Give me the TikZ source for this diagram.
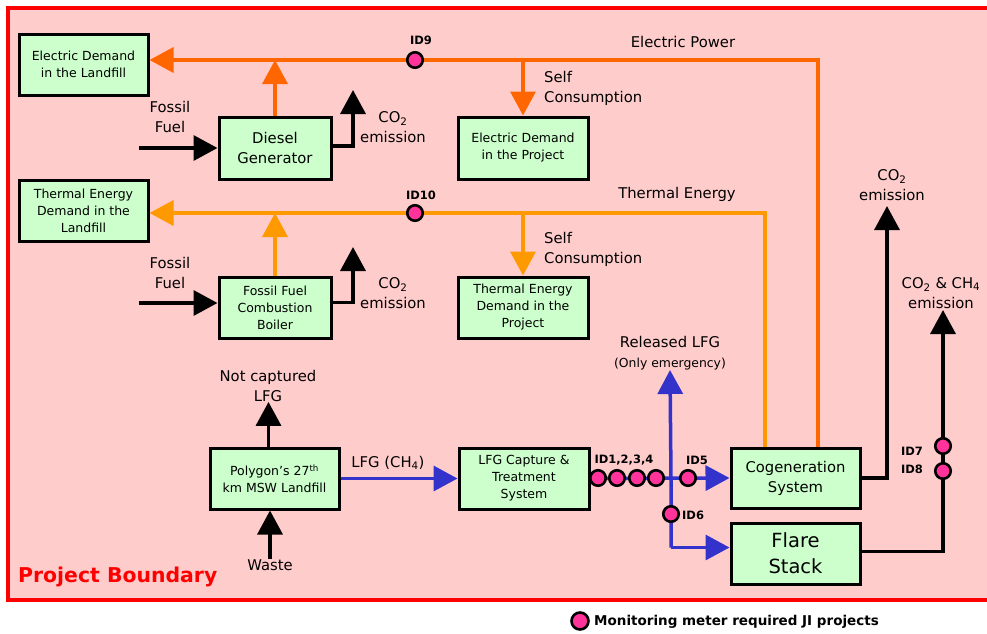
\documentclass[tikz,border=0pt]{standalone}
\usepackage{fontspec}
\setmainfont{DejaVu Sans}
\usetikzlibrary{arrows.meta}
\definecolor{bpink}{HTML}{FFCCCC}
\definecolor{bgreen}{HTML}{CCFFCC}
\definecolor{belec}{HTML}{FF6600}
\definecolor{btherm}{HTML}{FF9900}
\definecolor{bblue}{HTML}{3333CC}
\definecolor{bmeter}{HTML}{FF3399}
\definecolor{bred}{HTML}{FF0000}
\tikzstyle{boundingbox} = [line width=3.5pt, draw=bred, fill=bpink]
\tikzstyle{block} = [rectangle, draw, line width=3pt, fill=bgreen, align=center, minimum width=129pt, minimum height=61pt, inner sep=1pt, font=\fontsize{12.5}{17}\selectfont]
\tikzstyle{bigblock} = [block, font=\fontsize{14.8}{20}\selectfont]
\tikzstyle{meter} = [circle, draw, line width=2.6pt, fill=bmeter, minimum size=15.5pt, inner sep=0pt]
\tikzstyle{meterid} = [inner sep=0pt, font=\fontsize{11.5}{13}\bfseries\selectfont]
\tikzstyle{tag} = [align=center, inner sep=0pt, font=\fontsize{14.8}{20}\selectfont]
\tikzstyle{line} = [draw, line width=3.5pt]
\tikzstyle{arrow} = [line, -{Triangle[length=24pt, width=25pt]}]

\begin{document}
\begin{tikzpicture}[x=1pt, y=-1pt]
\useasboundingbox (0,0) rectangle (987,633);

%% project boundary
\draw[boundingbox] (8,8) rectangle (1000,600);
\node[anchor=west, inner sep=0pt, text=bred, font=\fontsize{20.4}{23}\bfseries\selectfont] at (18,577) (boundlabel) {Project Boundary};

%% electric power
\node[block] at (83.5,64.5) (edland) {Electric Demand\\in the Landfill};
\node[bigblock, minimum width=112pt, minimum height=62pt] at (275,148) (diesel) {Diesel\\Generator};
\node[block, minimum width=130pt, minimum height=62pt] at (523,148) (edproj) {Electric Demand\\in the Project};
\node[tag] at (170,117) (dfuellabel) {Fossil\\Fuel};
\node[tag] at (393,127) (dco2label) {CO\textsubscript{2}\\emission};
\node[tag] at (683,42) (elecpower) {Electric Power};
\node[tag, anchor=west, align=left] at (544,88) (eselflabel) {Self\\Consumption};

%% thermal energy
\node[block] at (83.5,210.5) (tdland) {Thermal Energy\\Demand in the\\Landfill};
\node[block, minimum width=112pt] at (275,307.5) (boiler) {Fossil Fuel\\Combustion\\Boiler};
\node[block, minimum width=130pt] at (523,307.5) (tdproj) {Thermal Energy\\Demand in the\\Project};
\node[tag] at (170,273) (bfuellabel) {Fossil\\Fuel};
\node[tag] at (393,293) (bco2label) {CO\textsubscript{2}\\emission};
\node[tag] at (677,194) (thermenergy) {Thermal Energy};
\node[tag, anchor=west, align=left] at (544,249.5) (tselflabel) {Self\\Consumption};

%% landfill gas
\node[block] at (274.5,478.5) (landfill) {Polygon’s 27\textsuperscript{th}\\km MSW Landfill};
\node[block, minimum width=130pt] at (524,478.5) (capture) {LFG Capture \&\\Treatment\\System};
\node[bigblock, minimum height=60pt] at (795.5,478) (cogen) {Cogeneration\\System};
\node[block, minimum height=61pt, font=\fontsize{19.5}{26}\selectfont] at (795.5,553.5) (flare) {Flare\\Stack};
\node[tag] at (268,386) (notcap) {Not captured\\LFG};
\node[tag] at (270,565) (waste) {Waste};
\node[tag] at (388,463) (lfgch4) {LFG (CH\textsubscript{4})};
\node[tag, anchor=south] at (670,370) (released) {Released LFG\\{\fontsize{12.4}{14}\selectfont (Only emergency)}};
\node[tag] at (892,185) (cogco2label) {CO\textsubscript{2}\\emission};
\node[tag] at (941,293) (flareco2label) {CO\textsubscript{2} \& CH\textsubscript{4}\\emission};

\coordinate (ecorner) at (818,60);
\coordinate (tcorner) at (765,213);
\coordinate (dfuel) at (139,148);
\coordinate (bfuel) at (139,303);
\coordinate (dco2) at (353,90);
\coordinate (bco2) at (353,247);
\coordinate (bsplit) at (671,478);
\coordinate (cogtop) at (887,206);
\coordinate (flaretop) at (943,310);

% electric and thermal lines
\path[arrow, draw=belec] (ecorner |- cogen.north) -- (ecorner) -- (ecorner -| edland.east);
\path[arrow, draw=belec] (ecorner -| edproj.north) -- (edproj.north);
\path[arrow, draw=belec] (diesel.north) -- (diesel.north |- ecorner);
\path[arrow, draw=btherm] (tcorner |- cogen.north) -- (tcorner) -- (tcorner -| tdland.east);
\path[arrow, draw=btherm] (tcorner -| tdproj.north) -- (tdproj.north);
\path[arrow, draw=btherm] (boiler.north) -- (boiler.north |- tcorner);

% fuel and emissions
\path[arrow] (dfuel) -- (dfuel -| diesel.west);
\path[arrow] (bfuel) -- (bfuel -| boiler.west);
\path[arrow] ([yshift=2pt]diesel.east) -| (dco2);
\path[arrow] ([yshift=5pt]boiler.east) -| (bco2);
\path[arrow] ([xshift=-6pt]landfill.north) -- ([xshift=-6pt]landfill.north |- notcap.south);
\path[arrow] ([xshift=-4.5pt]landfill.south |- waste.north) -- ([xshift=-4.5pt]landfill.south);
\path[arrow] (cogen.east) -| (cogtop);
\path[arrow] ([yshift=2pt]flare.east) -| (flaretop);

% gas flow
\path[arrow, draw=bblue] (landfill.east) -- (capture.west);
\path[arrow, draw=bblue] (capture.east) -- (cogen.west);
\path[arrow, draw=bblue] ([yshift=6pt]flare.west -| bsplit) -- (bsplit) -- (released.south);
\path[arrow, draw=bblue] ([yshift=6pt]flare.west -| bsplit) -- ([yshift=6pt]flare.west);

%% meters
\node[meter] at (415,60) (m9) {};
\node[meterid] at (421,40) (id9) {ID9};
\node[meter] at (415,213) (m10) {};
\node[meterid] at (421,195) (id10) {ID10};
\node[meter] at (598,478) (m1) {};
\node[meter] at (617,478) (m2) {};
\node[meter] at (637,478) (m3) {};
\node[meter] at (656,478) (m4) {};
\node[meterid] at (624,460) (id1) {ID1,2,3,4};
\node[meter] at (688,478) (m5) {};
\node[meterid] at (697,460) (id5) {ID5};
\node[meter] at (671,514) (m6) {};
\node[meterid, anchor=west] at (682,515) (id6) {ID6};
\node[meter] at (943,446) (m7) {};
\node[meterid] at (912,451) (id7) {ID7};
\node[meter] at (943,471) (m8) {};
\node[meterid] at (912,469) (id8) {ID8};

%% legend
\node[meter, minimum size=17pt] at (580,621) (legendmeter) {};
\node[anchor=west, inner sep=0pt, font=\fontsize{13.5}{16}\bfseries\selectfont] at (594,622) (legend) {Monitoring meter required JI projects};
\end{tikzpicture}
\end{document}
